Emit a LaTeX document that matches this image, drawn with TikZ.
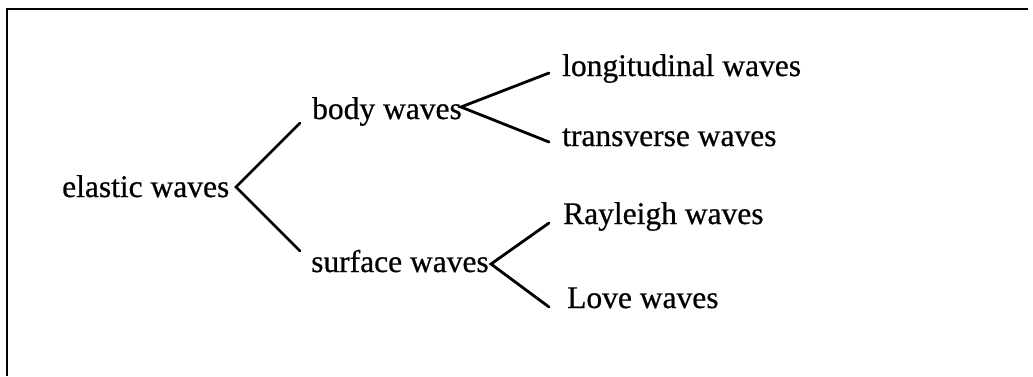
\documentclass[tikz,border=0pt]{standalone}
\usepackage{fontspec}
\setmainfont[FakeBold=0.6]{Liberation Serif}
\begin{document}
\begin{tikzpicture}[x=1pt,y=-1pt,
  lbl/.style={anchor=base west,inner sep=0pt,font=\fontsize{31.5}{36}\selectfont},
  branch/.style={line width=2.8pt,line cap=round,line join=miter},
  frame/.style={line width=2.8pt}]
\useasboundingbox (0,0) rectangle (1033,376);
% frame (top and left edges only)
\coordinate (tl) at (7,9);
\coordinate (tr) at (1028,9);
\coordinate (bl) at (7,376);
\draw[frame] (tr) -- (tl) -- (bl);
% labels
\node[lbl] (elastic) at (62,197) {elastic waves};
\node[lbl] (body) at (312,119) {body waves};
\node[lbl] (surface) at (311,272) {surface waves};
\node[lbl] (long) at (562,76) {longitudinal waves};
\node[lbl] (trans) at (562,146) {transverse waves};
\node[lbl] (ray) at (563,224) {Rayleigh waves};
\node[lbl] (love) at (567,308) {Love waves};
% branch points
\coordinate (ev) at (236,187);
\coordinate (eu) at (300,123);
\coordinate (ed) at (300,251);
\coordinate (bv) at (461,107);
\coordinate (bu) at (549,73);
\coordinate (bd) at (549,142);
\coordinate (sv) at (491,264);
\coordinate (su) at (549,223);
\coordinate (sd) at (549,307);
\draw[branch] (eu) -- (ev) -- (ed);
\draw[branch] (bu) -- (bv) -- (bd);
\draw[branch] (su) -- (sv) -- (sd);
\end{tikzpicture}
\end{document}
